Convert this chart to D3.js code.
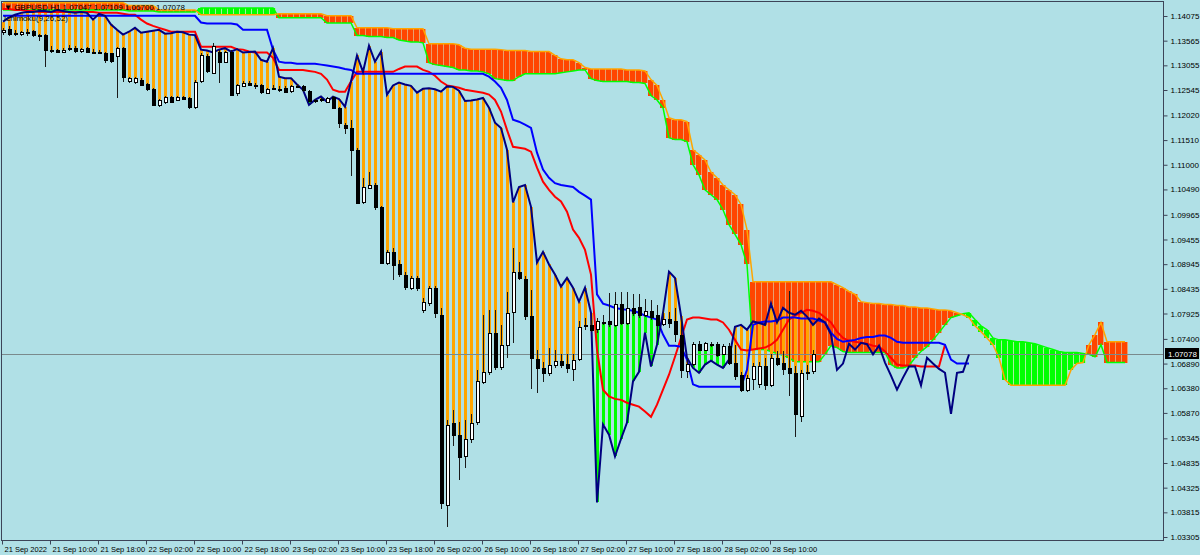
<!DOCTYPE html>
<html><head><meta charset="utf-8">
<script src="https://cdn.jsdelivr.net/npm/d3@7"></script>
<style>html,body{margin:0;padding:0;background:#b0e0e6;} svg{display:block}</style>
</head><body><svg id="c" width="1200" height="555"></svg>
<script>
// ---------- DATA (GBPUSD H1, 21-28 Sep 2022) ----------
const opens = [1.1375,1.1381,1.1373,1.1371,1.1375,1.1377,1.1369,1.1369,1.1338,1.1337,
1.1334,1.1339,1.1341,1.1334,1.1341,1.1334,1.1333,1.1332,1.1330,1.1324,
1.1341,1.1272,1.1270,1.1276,1.1266,1.1257,1.1224,1.1230,1.1241,1.1234,
1.1241,1.1238,1.1220,1.1272,1.1324,1.1290,1.1334,1.1313,1.1334,1.1247,
1.1264,1.1270,1.1264,1.1264,1.1249,1.1259,1.1257,1.1259,1.1251,1.1262,
1.1262,1.1253,1.1234,1.1234,1.1230,1.1241,1.1218,1.1183,1.1176,1.1131,
1.1024,1.1052,1.1058,1.1013,1.0898,1.0920,1.0894,1.0873,1.0846,1.0866,
1.0800,1.0815,1.0846,1.0790,1.0398,1.0567,1.0542,1.0497,1.0533,1.0567,
1.0652,1.0672,1.0753,1.0683,1.0728,1.0796,1.0879,1.0864,1.0788,1.0699,
1.0680,1.0670,1.0687,1.0695,1.0689,1.0678,1.0699,1.0767,1.0769,1.0759,
1.0774,1.0776,1.0769,1.0813,1.0774,1.0804,1.0806,1.0790,1.0798,1.0790,
1.0771,1.0782,1.0776,1.0749,1.0674,1.0689,1.0730,1.0718,1.0730,1.0730,
1.0710,1.0726,1.0691,1.0666,1.0635,1.0656,1.0646,1.0683,1.0646,1.0701,
1.0691,1.0680,1.0670,1.0582,1.0670,1.0672];
const highs = [1.1383,1.1386,1.1379,1.1377,1.1381,1.1379,1.1371,1.1371,1.1346,1.1339,
1.1341,1.1348,1.1346,1.1341,1.1344,1.1339,1.1338,1.1334,1.1332,1.1344,
1.1344,1.1282,1.1282,1.1279,1.1268,1.1259,1.1236,1.1243,1.1243,1.1243,
1.1243,1.1241,1.1276,1.1330,1.1328,1.1352,1.1338,1.1336,1.1338,1.1266,
1.1274,1.1274,1.1270,1.1266,1.1259,1.1264,1.1262,1.1262,1.1264,1.1266,
1.1264,1.1255,1.1236,1.1238,1.1241,1.1243,1.1220,1.1187,1.1193,1.1135,
1.1073,1.1084,1.1062,1.1015,1.0924,1.0928,1.0904,1.0879,1.0871,1.0871,
1.0825,1.0850,1.0850,1.0804,1.0573,1.0594,1.0569,1.0573,1.0584,1.0676,
1.0790,1.0800,1.0800,1.0768,1.0836,1.0928,1.0900,1.0871,1.0842,1.0718,
1.0693,1.0722,1.0718,1.0708,1.0708,1.0708,1.0776,1.0784,1.0780,1.0784,
1.0790,1.0834,1.0836,1.0836,1.0836,1.0832,1.0832,1.0823,1.0821,1.0811,
1.0800,1.0796,1.0804,1.0780,1.0697,1.0734,1.0736,1.0734,1.0734,1.0734,
1.0730,1.0732,1.0728,1.0672,1.0666,1.0691,1.0693,1.0701,1.0708,1.0714,
1.0714,1.0838,1.0685,1.0676,1.0687,1.0718];
const lows = [1.1369,1.1367,1.1367,1.1367,1.1367,1.1365,1.1356,1.1303,1.1330,1.1330,
1.1332,1.1336,1.1332,1.1332,1.1330,1.1330,1.1328,1.1311,1.1311,1.1238,
1.1272,1.1268,1.1266,1.1264,1.1253,1.1222,1.1220,1.1226,1.1228,1.1232,
1.1234,1.1216,1.1216,1.1270,1.1290,1.1288,1.1270,1.1311,1.1243,1.1243,
1.1262,1.1264,1.1257,1.1247,1.1247,1.1255,1.1251,1.1249,1.1249,1.1259,
1.1251,1.1230,1.1228,1.1230,1.1228,1.1216,1.1176,1.1164,1.1076,1.1018,
1.1018,1.1050,1.1007,1.0894,1.0892,1.0862,1.0868,1.0842,1.0842,1.0840,
1.0794,1.0809,1.0784,1.0389,1.0352,1.0518,1.0449,1.0473,1.0524,1.0563,
1.0646,1.0666,1.0676,1.0676,1.0701,1.0732,1.0862,1.0780,1.0637,1.0629,
1.0650,1.0664,1.0680,1.0680,1.0670,1.0652,1.0695,1.0759,1.0755,1.0753,
1.0768,1.0765,1.0765,1.0769,1.0769,1.0788,1.0784,1.0786,1.0780,1.0738,
1.0767,1.0763,1.0734,1.0660,1.0660,1.0685,1.0714,1.0714,1.0724,1.0703,
1.0706,1.0687,1.0656,1.0631,1.0631,1.0635,1.0639,1.0635,1.0641,1.0685,
1.0666,1.0621,1.0538,1.0569,1.0656,1.0668];
const closes = [1.1379,1.1371,1.1372,1.1375,1.1374,1.1369,1.1368,1.1338,1.1336,1.1332,
1.1338,1.1341,1.1334,1.1339,1.1332,1.1333,1.1334,1.1317,1.1313,1.1341,
1.1282,1.1279,1.1279,1.1266,1.1255,1.1224,1.1234,1.1241,1.1230,1.1241,
1.1236,1.1220,1.1272,1.1326,1.1292,1.1346,1.1313,1.1334,1.1245,1.1264,
1.1270,1.1266,1.1263,1.1249,1.1257,1.1258,1.1256,1.1251,1.1262,1.1261,
1.1253,1.1232,1.1233,1.1235,1.1238,1.1218,1.1187,1.1176,1.1131,1.1022,
1.1054,1.1058,1.1013,1.0898,1.0920,1.0894,1.0873,1.0848,1.0866,1.0846,
1.0817,1.0846,1.0794,1.0402,1.0563,1.0542,1.0497,1.0533,1.0567,1.0652,
1.0672,1.0753,1.0683,1.0728,1.0794,1.0879,1.0866,1.0788,1.0701,1.0680,
1.0670,1.0687,1.0695,1.0687,1.0680,1.0697,1.0765,1.0769,1.0759,1.0776,
1.0773,1.0769,1.0813,1.0774,1.0804,1.0794,1.0790,1.0798,1.0786,1.0769,
1.0782,1.0774,1.0749,1.0676,1.0689,1.0730,1.0718,1.0732,1.0729,1.0708,
1.0726,1.0691,1.0664,1.0635,1.0660,1.0683,1.0683,1.0644,1.0701,1.0689,
1.0678,1.0670,1.0585,1.0670,1.0672,1.07078];
// closes of the 26 bars before the first visible bar (feed the shifted close line)
const priorCloses = [1.1396,1.1404,1.1410,1.1414,1.1416,1.1416,1.1418,1.1418,1.1416,1.1420,
1.1418,1.1416,1.1414,1.1416,1.1414,1.1400,1.1412,1.1408,1.1390,1.1379,
1.1369,1.1375,1.1383,1.1373,1.1375,1.1377];
const lagShift = 26;
const tenkan = [1.1422,1.1422,1.1420,1.1420,1.1418,1.1418,1.1416,1.1416,1.1416,1.1416,
1.1416,1.1416,1.1416,1.1416,1.1416,1.1416,1.1414,1.1414,1.1414,1.1414,
1.1412,1.1410,1.1410,1.1400,1.1392,1.1387,1.1383,1.1379,1.1375,1.1375,
1.1375,1.1375,1.1375,1.1344,1.1344,1.1344,1.1344,1.1344,1.1344,1.1339,
1.1338,1.1334,1.1332,1.1332,1.1332,1.1321,1.1296,1.1296,1.1296,1.1296,
1.1296,1.1294,1.1292,1.1288,1.1276,1.1255,1.1251,1.1251,1.1272,1.1292,
1.1292,1.1292,1.1292,1.1292,1.1292,1.1292,1.1298,1.1303,1.1303,1.1303,
1.1296,1.1292,1.1284,1.1272,1.1264,1.1262,1.1259,1.1255,1.1253,1.1251,
1.1249,1.1245,1.1234,1.1210,1.1172,1.1137,1.1135,1.1133,1.1127,1.1094,
1.1065,1.1048,1.1034,1.1024,1.1003,1.0966,1.0949,1.0924,1.0873,1.0718,
1.0635,1.0621,1.0616,1.0614,1.0608,1.0604,1.0600,1.0590,1.0579,1.0604,
1.0635,1.0666,1.0703,1.0742,1.0780,1.0784,1.0784,1.0782,1.0780,1.0780,
1.0774,1.0759,1.0738,1.0718,1.0716,1.0718,1.0720,1.0722,1.0728,1.0738,
1.0759,1.0780,1.0788,1.0794,1.0800,1.0798,1.0794,1.0784,1.0774,1.0755,
1.0742,1.0736,1.0734,1.0732,1.0730,1.0726,1.0724,1.0714,1.0701,1.0687,
1.0685,1.0685,1.0685,1.0683,1.0683,1.0683,1.0683,1.0728];
const kijun = [1.1408,1.1408,1.1408,1.1408,1.1408,1.1408,1.1408,1.1408,1.1408,1.1408,
1.1408,1.1408,1.1408,1.1408,1.1408,1.1408,1.1408,1.1408,1.1408,1.1408,
1.1408,1.1408,1.1408,1.1408,1.1408,1.1408,1.1408,1.1408,1.1408,1.1408,
1.1408,1.1408,1.1408,1.1394,1.1392,1.1392,1.1392,1.1392,1.1392,1.1390,
1.1379,1.1379,1.1379,1.1379,1.1379,1.1338,1.1313,1.1311,1.1311,1.1309,
1.1309,1.1309,1.1309,1.1307,1.1305,1.1303,1.1301,1.1298,1.1296,1.1288,
1.1288,1.1288,1.1288,1.1288,1.1288,1.1288,1.1288,1.1288,1.1288,1.1288,
1.1288,1.1288,1.1288,1.1288,1.1288,1.1288,1.1288,1.1288,1.1288,1.1288,
1.1288,1.1282,1.1272,1.1259,1.1234,1.1193,1.1189,1.1183,1.1176,1.1125,
1.1090,1.1073,1.1062,1.1058,1.1056,1.1054,1.1044,1.1036,1.1028,1.0832,
1.0813,1.0809,1.0804,1.0802,1.0800,1.0798,1.0794,1.0788,1.0784,1.0780,
1.0749,1.0726,1.0726,1.0724,1.0697,1.0646,1.0641,1.0641,1.0641,1.0641,
1.0641,1.0641,1.0641,1.0641,1.0676,1.0769,1.0774,1.0776,1.0776,1.0778,
1.0784,1.0784,1.0784,1.0782,1.0782,1.0782,1.0778,1.0774,1.0753,1.0740,
1.0734,1.0736,1.0738,1.0742,1.0744,1.0744,1.0747,1.0747,1.0742,1.0734,
1.0732,1.0732,1.0732,1.0732,1.0732,1.0732,1.0732,1.0728,1.0697,1.0689,
1.0689,1.0689];
const spanB = [1.1435,1.1435,1.1435,1.1435,1.1435,1.1435,1.1435,1.1435,1.1435,1.1435,
1.1435,1.1435,1.1435,1.1435,1.1435,1.1435,1.1435,1.1435,1.1435,1.1435,
1.1435,1.1429,1.1429,1.1429,1.1429,1.1429,1.1420,1.1420,1.1420,1.1420,
1.1420,1.1420,1.1420,1.1410,1.1410,1.1410,1.1410,1.1410,1.1410,1.1410,
1.1410,1.1410,1.1410,1.1410,1.1410,1.1410,1.1412,1.1412,1.1412,1.1412,
1.1412,1.1412,1.1412,1.1412,1.1408,1.1408,1.1408,1.1408,1.1408,1.1383,
1.1383,1.1383,1.1383,1.1383,1.1383,1.1381,1.1381,1.1381,1.1381,1.1381,
1.1381,1.1350,1.1350,1.1350,1.1350,1.1350,1.1348,1.1341,1.1339,1.1339,
1.1339,1.1339,1.1339,1.1338,1.1336,1.1336,1.1336,1.1336,1.1334,1.1334,
1.1334,1.1334,1.1326,1.1319,1.1317,1.1317,1.1311,1.1301,1.1298,1.1298,
1.1298,1.1298,1.1298,1.1298,1.1296,1.1296,1.1296,1.1294,1.1276,1.1264,
1.1234,1.1197,1.1193,1.1193,1.1189,1.1131,1.1121,1.1110,1.1085,1.1073,
1.1058,1.1048,1.1038,1.1018,1.0966,1.0858,1.0858,1.0858,1.0858,1.0858,
1.0858,1.0858,1.0858,1.0858,1.0858,1.0858,1.0858,1.0858,1.0858,1.0852,
1.0846,1.0838,1.0832,1.0817,1.0815,1.0813,1.0813,1.0811,1.0811,1.0809,
1.0809,1.0806,1.0806,1.0804,1.0804,1.0802,1.0800,1.0800,1.0798,1.0794,
1.0790,1.0784,1.0767,1.0755,1.0742,1.0728,1.0701,1.0656,1.0644,1.0644,
1.0644,1.0644,1.0644,1.0644,1.0644,1.0644,1.0644,1.0644,1.0676,1.0689,
1.0691,1.0728,1.0749,1.0774,1.0734,1.0734,1.0734,1.0734];
const spanA = [1.1420,1.1420,1.1420,1.1420,1.1420,1.1420,1.1420,1.1420,1.1420,1.1420,
1.1420,1.1420,1.1420,1.1420,1.1420,1.1420,1.1420,1.1420,1.1420,1.1420,
1.1420,1.1418,1.1418,1.1418,1.1418,1.1418,1.1416,1.1416,1.1416,1.1416,
1.1416,1.1416,1.1416,1.1424,1.1424,1.1424,1.1424,1.1424,1.1424,1.1424,
1.1424,1.1424,1.1424,1.1424,1.1424,1.1424,1.1404,1.1404,1.1404,1.1404,
1.1404,1.1404,1.1404,1.1404,1.1393,1.1393,1.1393,1.1393,1.1393,1.1367,
1.1367,1.1365,1.1365,1.1365,1.1363,1.1363,1.1358,1.1356,1.1354,1.1354,
1.1352,1.1311,1.1307,1.1305,1.1303,1.1301,1.1296,1.1296,1.1294,1.1294,
1.1292,1.1288,1.1278,1.1276,1.1274,1.1274,1.1282,1.1288,1.1288,1.1288,
1.1288,1.1288,1.1288,1.1290,1.1292,1.1294,1.1296,1.1296,1.1278,1.1274,
1.1272,1.1272,1.1272,1.1272,1.1272,1.1270,1.1270,1.1268,1.1243,1.1234,
1.1218,1.1156,1.1152,1.1152,1.1148,1.1100,1.1079,1.1048,1.1038,1.1028,
1.1007,1.0976,1.0956,1.0935,1.0894,1.0718,1.0718,1.0718,1.0714,1.0710,
1.0706,1.0701,1.0693,1.0693,1.0693,1.0693,1.0693,1.0708,1.0726,1.0722,
1.0714,1.0712,1.0712,1.0712,1.0712,1.0712,1.0712,1.0712,1.0687,1.0680,
1.0680,1.0685,1.0701,1.0714,1.0724,1.0738,1.0753,1.0769,1.0784,1.0788,
1.0792,1.0794,1.0780,1.0767,1.0759,1.0742,1.0738,1.0738,1.0736,1.0734,
1.0734,1.0732,1.0730,1.0726,1.0722,1.0718,1.0714,1.0712,1.0712,1.0712,
1.0710,1.0708,1.0703,1.0728,1.0691,1.0691,1.0691,1.0691];
const priceTicks = [1.14075,1.13565,1.13055,1.12545,1.12020,1.11510,1.11000,1.10490,1.09965,1.09455,
1.08945,1.08435,1.07925,1.07400,1.06890,1.06380,1.05870,1.05345,1.04835,1.04325,1.03815,1.03305];
const timeTickBars = [0,8,16,24,32,40,48,56,64,72,80,88,96,104,112,120,128];
const timeTickLabels = ["21 Sep 2022","21 Sep 10:00","21 Sep 18:00","22 Sep 02:00","22 Sep 10:00","22 Sep 18:00",
"23 Sep 02:00","23 Sep 10:00","23 Sep 18:00","26 Sep 02:00","26 Sep 10:00","26 Sep 18:00",
"27 Sep 02:00","27 Sep 10:00","27 Sep 18:00","28 Sep 02:00","28 Sep 10:00"];
const lastPrice = 1.07078;
const legendLines = ["GBPUSD,H1  1.07047 1.07109 1.06700 1.07078", "Ichimoku(9,26,52)"];

// ---------- DRAW ----------
const W=1200,H=555, PL=1, PR=1163, PT=1, PB=540;
const FONT = "'Liberation Sans', Arial, sans-serif";
const svg=d3.select('#c');
svg.append('rect').attr('width',W).attr('height',H).attr('fill','#b0e0e6');
const x=d3.scaleLinear().domain([0,193]).range([3,1161]);
const y=d3.scaleLinear().domain([1.03305,1.14075]).range([537,16]);
svg.append('defs').append('clipPath').attr('id','clip').append('rect')
  .attr('x',PL+1).attr('y',PT+1).attr('width',PR-PL-1).attr('height',PB-PT-1);
const g=svg.append('g').attr('clip-path','url(#clip)');

// cloud
const cIdx=d3.range(spanA.length);
const bear=i=>spanB[i]>spanA[i];
g.append('g').attr('shape-rendering','crispEdges').selectAll('rect').data(cIdx).join('rect')
  .attr('x',i=>x(i)-3).attr('width',6)
  .attr('y',i=>y(Math.max(spanA[i],spanB[i])))
  .attr('height',i=>Math.max(1,Math.abs(y(spanA[i])-y(spanB[i]))))
  .attr('fill',i=>bear(i)?'#ff4500':'#00ff00');
g.append('g').attr('shape-rendering','crispEdges').selectAll('line').data(cIdx).join('line')
  .attr('x1',i=>x(i)+2.5).attr('x2',i=>x(i)+2.5)
  .attr('y1',i=>y(spanA[i])).attr('y2',i=>y(spanB[i]))
  .attr('stroke',i=>bear(i)?'#e8a070':'#a8f0a0').attr('stroke-width',1);
const lineGen=arr=>d3.line().x((d,i)=>x(i)).y(d=>y(d))(arr);
g.append('path').attr('d',lineGen(spanA)).attr('fill','none').attr('stroke','#00ff00').attr('stroke-width',1.5);
g.append('path').attr('d',lineGen(spanB)).attr('fill','none').attr('stroke','#ffa500').attr('stroke-width',1.5);

// shifted close (lagging line) values per bar
const lagged = d3.range(closes.length + lagShift).map(i => i < lagShift ? priorCloses[i] : closes[i-lagShift]);

// histogram between lagged close and current close
g.append('g').attr('shape-rendering','crispEdges').selectAll('line').data(d3.range(closes.length)).join('line')
  .attr('x1',i=>x(i)+0.5).attr('x2',i=>x(i)+0.5)
  .attr('y1',i=>y(lagged[i])).attr('y2',i=>y(closes[i]))
  .attr('stroke',i=>lagged[i]>closes[i]?'#ffa500':'#00ff00').attr('stroke-width',3);

// price line
g.append('line').attr('x1',PL).attr('x2',PR).attr('y1',Math.round(y(lastPrice))+0.5).attr('y2',Math.round(y(lastPrice))+0.5)
  .attr('stroke','#7a8a8c').attr('stroke-width',1);

// indicator lines
g.append('path').attr('d',lineGen(tenkan)).attr('fill','none').attr('stroke','#ff0000').attr('stroke-width',2);
g.append('path').attr('d',lineGen(kijun)).attr('fill','none').attr('stroke','#0000ff').attr('stroke-width',2);
g.append('path').attr('d',lineGen(lagged)).attr('fill','none').attr('stroke','#000080').attr('stroke-width',2);

// candles
const cg=g.append('g').attr('shape-rendering','crispEdges');
const ci=d3.range(closes.length);
cg.selectAll('line.w').data(ci).join('line').attr('class','w')
  .attr('x1',i=>x(i)+0.5).attr('x2',i=>x(i)+0.5)
  .attr('y1',i=>y(highs[i])).attr('y2',i=>y(lows[i]))
  .attr('stroke','#1a1a1a').attr('stroke-width',1);
cg.selectAll('rect').data(ci).join('rect')
  .attr('x',i=>x(i)-1).attr('width',3)
  .attr('y',i=>Math.round(y(Math.max(opens[i],closes[i])))+0.5)
  .attr('height',i=>Math.max(1,Math.round(Math.abs(y(opens[i])-y(closes[i])))))
  .attr('fill',i=>closes[i]>=opens[i]?'#ffffff':'#000000')
  .attr('stroke','#000').attr('stroke-width',1);

// frame
svg.append('rect').attr('x',PL+0.5).attr('y',PT+0.5).attr('width',PR-PL).attr('height',PB-PT)
  .attr('fill','none').attr('stroke','#3c4458').attr('stroke-width',1);

// axes
const ay=d3.axisRight(y).tickValues(priceTicks).tickSize(4).tickSizeOuter(0).tickFormat(d3.format('.5f'));
const gy=svg.append('g').attr('transform',`translate(${PR+0.5},0)`).call(ay);
gy.select('.domain').remove();
gy.selectAll('line').attr('stroke','#3c4458');
gy.selectAll('text').attr('x',7).attr('font-size','8px').attr('font-family',FONT).attr('fill','#000');

const ax=d3.axisBottom(x).tickValues(timeTickBars).tickSize(4).tickSizeOuter(0).tickFormat((d,i)=>timeTickLabels[i]);
const gx=svg.append('g').attr('transform',`translate(-1,${PB+0.5})`).call(ax);
gx.select('.domain').remove();
gx.selectAll('line').attr('stroke','#3c4458');
gx.selectAll('text').attr('text-anchor','start').attr('x',2).attr('y',6).attr('font-size','7.5px').attr('font-family',FONT).attr('fill','#000');

// last price label
const ly=Math.round(y(lastPrice));
svg.append('rect').attr('x',PR+2).attr('y',ly-6).attr('width',34).attr('height',11).attr('fill','#000');
svg.append('text').attr('x',PR+5).attr('y',ly+3).text(d3.format('.5f')(lastPrice))
  .attr('font-size','8px').attr('font-family',FONT).attr('fill','#fff');

// legend
svg.append('text').attr('x',4).attr('y',10).text('\u25BC '+legendLines[0]).attr('font-size','8px').attr('font-family',FONT).attr('fill','#000');
svg.append('text').attr('x',4).attr('y',21).text(legendLines[1]).attr('font-size','8px').attr('font-family',FONT).attr('fill','#000');
</script></body></html>
